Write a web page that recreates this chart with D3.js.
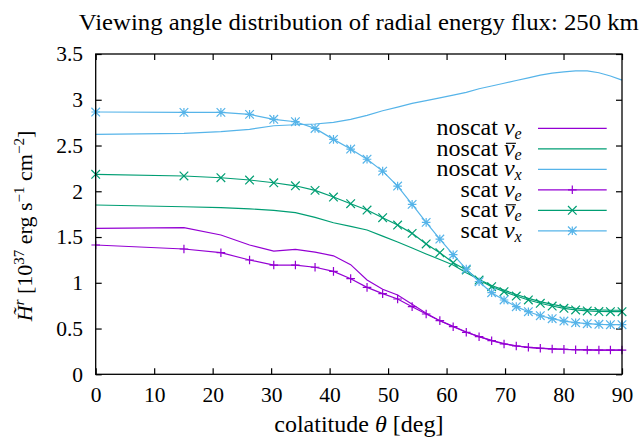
<!DOCTYPE html>
<html>
<head>
<meta charset="utf-8">
<script src="https://cdn.jsdelivr.net/npm/d3@7"></script>
<style>
  body { margin: 0; background: #fff; }
  text { font-family: "Liberation Serif", "DejaVu Serif", serif; fill: #000; }
</style>
</head>
<body>
<div id="visualization"></div>
<script>
// colatitude grid (deg)
const theta = [0, 15.09, 21.41, 26.31, 30.45, 34.15, 37.51, 40.66, 43.60, 46.40,
  49.07, 51.63, 54.11, 56.51, 58.85, 61.13, 63.37, 65.56, 67.71, 69.83,
  71.92, 73.99, 76.03, 78.06, 80.07, 82.07, 84.06, 86.05, 88.02, 90];

const noscatNue = [1.595, 1.602, 1.522, 1.413, 1.347, 1.366, 1.335, 1.295, 1.198, 1.03,
  0.929, 0.866, 0.765, 0.666, 0.586, 0.525, 0.462, 0.412, 0.37, 0.335,
  0.31, 0.295, 0.285, 0.277, 0.272, 0.268, 0.266, 0.265, 0.265, 0.265];
const noscatNuebar = [1.85, 1.831, 1.822, 1.808, 1.792, 1.766, 1.715, 1.656, 1.617, 1.577,
  1.51, 1.445, 1.38, 1.315, 1.255, 1.195, 1.11, 1.035, 0.97, 0.92,
  0.872, 0.83, 0.795, 0.765, 0.74, 0.722, 0.71, 0.703, 0.7, 0.7];
const noscatNux = [2.622, 2.632, 2.651, 2.677, 2.716, 2.727, 2.735, 2.753, 2.786, 2.83,
  2.88, 2.92, 2.96, 2.99, 3.02, 3.05, 3.08, 3.12, 3.15, 3.18,
  3.21, 3.24, 3.27, 3.29, 3.305, 3.315, 3.315, 3.295, 3.26, 3.215];
const scatNue = [1.413, 1.369, 1.329, 1.249, 1.194, 1.194, 1.17, 1.125, 1.045, 0.95,
  0.881, 0.823, 0.739, 0.659, 0.586, 0.52, 0.459, 0.411, 0.367, 0.331,
  0.309, 0.295, 0.284, 0.277, 0.272, 0.268, 0.266, 0.265, 0.265, 0.265];
const scatNuebar = [2.185, 2.167, 2.148, 2.123, 2.093, 2.06, 2.01, 1.937, 1.864, 1.795,
  1.711, 1.631, 1.54, 1.424, 1.329, 1.22, 1.14, 1.03, 0.957, 0.903,
  0.855, 0.812, 0.776, 0.746, 0.721, 0.703, 0.692, 0.686, 0.684, 0.684];
const scatNux = [2.866, 2.862, 2.862, 2.84, 2.786, 2.76, 2.687, 2.567, 2.461, 2.35,
  2.22, 2.057, 1.857, 1.66, 1.478, 1.307, 1.15, 1.012, 0.892, 0.812,
  0.739, 0.684, 0.64, 0.608, 0.582, 0.564, 0.553, 0.546, 0.542, 0.542];

const xTicks = [0, 10, 20, 30, 40, 50, 60, 70, 80, 90];
const yTicks = [0, 0.5, 1, 1.5, 2, 2.5, 3, 3.5];

// name parts: [prefix, nu-glyph, bar?, subscript]
const series = [
  { label: ['noscat ', 'ν', false, 'e'], values: noscatNue, color: '#9400d3', marker: null },
  { label: ['noscat ', 'ν', true, 'e'], values: noscatNuebar, color: '#009e73', marker: null },
  { label: ['noscat ', 'ν', false, 'x'], values: noscatNux, color: '#56b4e9', marker: null },
  { label: ['scat ', 'ν', false, 'e'], values: scatNue, color: '#9400d3', marker: 'plus' },
  { label: ['scat ', 'ν', true, 'e'], values: scatNuebar, color: '#009e73', marker: 'cross' },
  { label: ['scat ', 'ν', false, 'x'], values: scatNux, color: '#56b4e9', marker: 'star' },
];

const width = 644;
const height = 439;
const margin = { top: 54, right: 22, bottom: 64.7, left: 95.7 };
const innerW = width - margin.left - margin.right;
const innerH = height - margin.top - margin.bottom;
const ms = 4.3; // marker half-size

const svg = d3.select('#visualization')
  .append('svg')
  .attr('width', width)
  .attr('height', height);

const g = svg.append('g')
  .attr('transform', `translate(${margin.left},${margin.top})`);

const xScale = d3.scaleLinear().domain([0, 90]).range([0, innerW]);
const yScale = d3.scaleLinear().domain([0, 3.5]).range([innerH, 0]);

function styleAxis(sel) {
  sel.select('.domain').remove();
  sel.selectAll('.tick line').attr('stroke', '#000').attr('stroke-width', 1.2);
  sel.selectAll('.tick text')
    .style('font-family', '"Liberation Serif", "DejaVu Serif", serif')
    .style('font-size', '21.5px');
}

g.append('g')
  .attr('transform', `translate(0,${innerH})`)
  .call(d3.axisBottom(xScale).tickValues(xTicks).tickSizeInner(-6).tickSizeOuter(0).tickPadding(12.5))
  .call(styleAxis);
g.append('g')
  .call(d3.axisTop(xScale).tickValues(xTicks).tickSizeInner(-6).tickSizeOuter(0).tickFormat(''))
  .call(styleAxis);
g.append('g')
  .call(d3.axisLeft(yScale).tickValues(yTicks).tickSizeInner(-6).tickSizeOuter(0).tickPadding(12.7)
    .tickFormat((d) => `${d}`))
  .call(styleAxis);
g.append('g')
  .attr('transform', `translate(${innerW},0)`)
  .call(d3.axisRight(yScale).tickValues(yTicks).tickSizeInner(-6).tickSizeOuter(0).tickFormat(''))
  .call(styleAxis);

function drawMarker(sel, type, color) {
  let d = '';
  if (type === 'plus' || type === 'star') d += `M${-ms},0H${ms}M0,${-ms}V${ms}`;
  if (type === 'cross' || type === 'star') d += `M${-ms},${-ms}L${ms},${ms}M${-ms},${ms}L${ms},${-ms}`;
  sel.append('path').attr('d', d).attr('stroke', color).attr('stroke-width', 1.2).attr('fill', 'none');
}

const line = d3.line()
  .x((d, i) => xScale(theta[i]))
  .y((d) => yScale(d));

const plot = g.append('g');
series.forEach((s) => {
  plot.append('path')
    .attr('d', line(s.values))
    .attr('fill', 'none')
    .attr('stroke', s.color)
    .attr('stroke-width', 1.2);
  if (s.marker) {
    plot.append('g').selectAll('g')
      .data(s.values)
      .enter()
      .append('g')
      .attr('transform', (d, i) => `translate(${xScale(theta[i])},${yScale(d)})`)
      .each(function () { drawMarker(d3.select(this), s.marker, s.color); });
  }
});

// frame
g.append('rect')
  .attr('width', innerW)
  .attr('height', innerH)
  .attr('fill', 'none')
  .attr('stroke', '#000')
  .attr('stroke-width', 1.3);

// legend
const legend = svg.append('g');
series.forEach((s, i) => {
  const y = 128.3 + i * 20.5;
  const t = legend.append('text')
    .attr('x', 521.7)
    .attr('y', y + 7)
    .attr('text-anchor', 'end')
    .style('font-size', '24px');
  t.append('tspan').text(s.label[0]);
  const nu = t.append('tspan').style('font-style', 'italic').text(s.label[1]);
  t.append('tspan').style('font-style', 'italic').style('font-size', '16px')
    .attr('dy', 4).text(s.label[3]);
  if (s.label[2]) {
    // bar over nu
    const bb = nu.node().getBBox();
    legend.append('line')
      .attr('x1', bb.x + 2).attr('x2', bb.x + bb.width + 1)
      .attr('y1', y - 5.5).attr('y2', y - 5.5)
      .attr('stroke', '#000').attr('stroke-width', 1.1);
  }
  legend.append('line')
    .attr('x1', 538).attr('x2', 606.7)
    .attr('y1', y).attr('y2', y)
    .attr('stroke', s.color)
    .attr('stroke-width', 1.2);
  if (s.marker) {
    legend.append('g')
      .attr('transform', `translate(572.3,${y})`)
      .call((sel) => drawMarker(sel, s.marker, s.color));
  }
});

// title
svg.append('text')
  .attr('x', margin.left + innerW / 2)
  .attr('y', 30)
  .attr('text-anchor', 'middle')
  .attr('textLength', 560)
  .attr('lengthAdjust', 'spacingAndGlyphs')
  .style('font-size', '24px')
  .text('Viewing angle distribution of radial energy flux: 250 km');

// x label
const xl = svg.append('text')
  .attr('x', margin.left + innerW / 2)
  .attr('y', 432)
  .attr('text-anchor', 'middle')
  .style('font-size', '24px');
xl.append('tspan').text('colatitude ');
xl.append('tspan').style('font-style', 'italic').text('θ');
xl.append('tspan').text(' [deg]');

// y label
const yl = svg.append('text')
  .attr('transform', `translate(32,226) rotate(-90)`)
  .attr('text-anchor', 'middle')
  .style('font-size', '22px');
yl.append('tspan').style('font-style', 'italic').text('H̃');
yl.append('tspan').style('font-style', 'italic').style('font-size', '15px').attr('dy', -8).text('r');
yl.append('tspan').attr('dy', 8).text(' [10');
yl.append('tspan').style('font-size', '15px').attr('dy', -8).text('37');
yl.append('tspan').attr('dy', 8).text(' erg s');
yl.append('tspan').style('font-size', '15px').attr('dy', -8).text('−1');
yl.append('tspan').attr('dy', 8).text(' cm');
yl.append('tspan').style('font-size', '15px').attr('dy', -8).text('−2');
yl.append('tspan').attr('dy', 8).text(']');
</script>
</body>
</html>
